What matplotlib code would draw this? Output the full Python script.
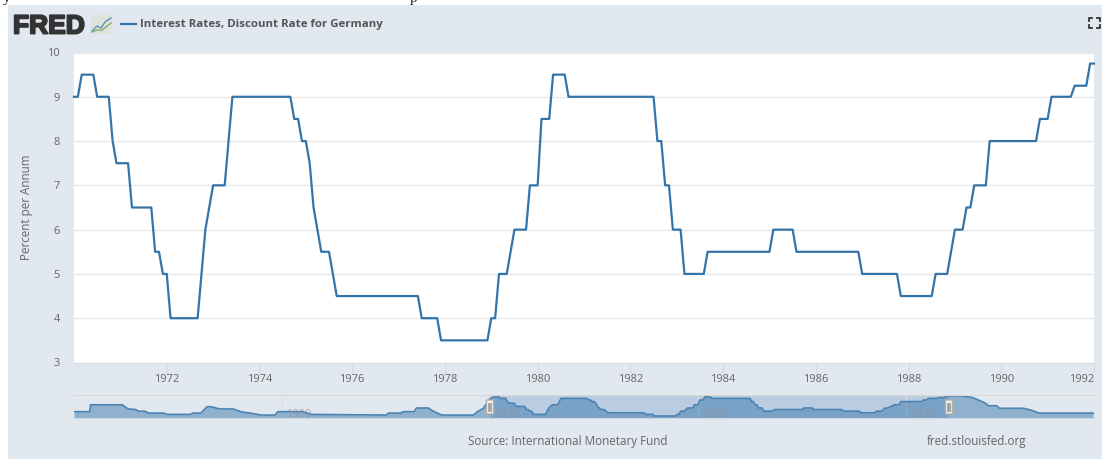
import numpy as np
import matplotlib
matplotlib.use('Agg')
import matplotlib.pyplot as plt
import matplotlib.patheffects as pe
from matplotlib.patches import Rectangle, FancyBboxPatch
from matplotlib.lines import Line2D

W, H = 1102, 459

rate_levels = [9, 9.5, 9, 8, 7.5, 6.5, 5.5, 5, 4, 5, 6, 6.5, 7, 8, 9, 8.5, 8, 7.5, 6.5, 6,
               5.5, 5, 4.5, 4, 3.5, 4, 5, 5.5, 6, 7, 8.5, 9.5, 9, 8, 7, 6, 5, 5.5, 6, 5.5,
               5, 4.5, 5, 5.5, 6, 6.5, 7, 8, 8.5, 9, 9.25, 9.75]
rate_months = [2, 4, 4, 1, 4, 6, 2, 2, 8, 1, 1, 1, 4, 1, 16, 2, 2, 1, 1, 1,
               3, 1, 22, 5, 13, 2, 3, 1, 4, 3, 3, 4, 23, 2, 2, 3, 6, 17, 6, 17,
               10, 9, 4, 1, 3, 2, 4, 13, 3, 6, 4, 2]

# Navigator series outside the selected range
nav_pre_years = [1950.0, 1950.75, 1950.8, 1952.32, 1952.6, 1952.97, 1953.1, 1953.4, 1953.6, 1954.3,
                 1954.5, 1955.6, 1955.7, 1956.1, 1956.4, 1956.6, 1957.0, 1957.66, 1958.06, 1958.46,
                 1959.0, 1959.66, 1959.8, 1961.0, 1961.4, 1965.03, 1965.1, 1965.7, 1965.83, 1966.35,
                 1966.47, 1967.03, 1967.27, 1967.67, 1969.2, 1969.4, 1969.68, 1969.85]
nav_pre_values = [4.85, 4.85, 7.0, 7.0, 5.7, 5.5, 5.0, 5.0, 4.4, 4.4,
                  4.0, 4.0, 4.4, 4.4, 6.4, 6.4, 5.7, 5.7, 4.75, 4.4,
                  3.8, 3.8, 4.85, 4.85, 4.0, 3.8, 4.4, 4.4, 4.85, 4.85,
                  6.0, 6.0, 5.0, 3.8, 3.8, 4.85, 5.9, 7.5]
nav_post_years = [1992.1, 1992.7, 1993.2, 1993.8, 1993.96, 1994.36, 1994.5, 1995.65, 1996.04, 1996.4, 1999.0]
nav_post_values = [9.75, 9.75, 9.25, 7.6, 6.7, 6.7, 5.9, 5.9, 5.3, 4.4, 4.4]

year_ticks = [1972, 1974, 1976, 1978, 1980, 1982, 1984, 1986, 1988, 1990, 1992]
rate_ticks = [3, 4, 5, 6, 7, 8, 9, 10]
nav_labels = [1960, 1970, 1980, 1990]

rate = np.repeat(rate_levels, rate_months)
years = 1970 + np.arange(len(rate)) / 12

BG = '#e1e8ef'
BLUE = '#3574a8'
GREY = '#666666'

plt.rcParams['font.family'] = ['Open Sans', 'DejaVu Sans']


def fx(x):
    return x / W


def fy(y):
    return 1 - y / H


def box(x0, y0, x1, y1):
    # axes rectangle given in pixels from the top left
    return [fx(x0), fy(y1), (x1 - x0) / W, (y1 - y0) / H]


fig = plt.figure(figsize=(W / 100, H / 100), dpi=100, facecolor='white')
fig.patches.append(Rectangle((fx(8), 0), 1 - fx(8), fy(5), transform=fig.transFigure,
                             facecolor=BG, edgecolor='none', zorder=-1))

# Main chart
ax = fig.add_axes(box(74, 52.5, 1094, 362.5), facecolor='white')
ax.plot(years, rate, color=BLUE, lw=1.6, solid_joinstyle='round', clip_on=False, zorder=3)
ax.set_xlim(1970, 1992)
ax.set_ylim(3, 10)
ax.set_xticks(year_ticks)
ax.set_yticks(rate_ticks)
ax.grid(axis='y', color='#e9e9e9', lw=1)
ax.set_axisbelow(True)
for s in ['top', 'left', 'right']:
    ax.spines[s].set_visible(False)
ax.spines['bottom'].set_color('#d3dce6')
ax.tick_params(axis='x', length=7, width=1, color='#d3dce6', labelcolor=GREY, labelsize=8, pad=1.5)
ax.tick_params(axis='y', length=0, labelcolor=GREY, labelsize=8, pad=10)
ax.get_xticklabels()[-1].set_horizontalalignment('right')
ax.set_ylabel('Percent per Annum', color=GREY, fontsize=8.4)
ax.yaxis.set_label_coords((33 - 74) / 1020, 0.5)

# Navigator
nav = fig.add_axes(box(74, 395, 1094, 418), facecolor='none')
nav_years = np.concatenate([nav_pre_years, years, nav_post_years])
nav_values = np.concatenate([nav_pre_values, rate, nav_post_values])
nav.axvspan(1970, 1992.06, color='#b9cce2', lw=0, zorder=0)
for yr in nav_labels:
    nav.axvline(yr, color='#d9dfe4', lw=0.7, zorder=0.5)
nav.fill_between(nav_years, nav_values, 2.875, color='#2f6fa5', alpha=0.45, lw=0, zorder=1)
nav.plot(nav_years, nav_values, color='#4a82b2', lw=1.2, zorder=2)
nav.set_xlim(1950, 1999.04)
nav.set_ylim(2.875, 10.06)
nav.set_xticks([])
nav.set_yticks([])
for s in ['left', 'right']:
    nav.spines[s].set_visible(False)
nav.spines['top'].set_color('#d9d9d2')
nav.spines['bottom'].set_color('#cfd8e0')
for yr in nav_labels:
    nav.text(yr + 0.2, 3.9, str(yr), color='#8a8f94', alpha=0.75, fontsize=8, va='center', zorder=3)

# Navigator handles
for x0 in [486.5, 945.5]:
    fig.patches.append(FancyBboxPatch((fx(x0), fy(414)), 7 / W, 14 / H, transform=fig.transFigure,
                                      boxstyle='round,pad=0', facecolor='#f4f4f2',
                                      edgecolor='#b5b0a5', lw=1, zorder=5))
    fig.patches.append(Rectangle((fx(x0 + 1.8), fy(411.5)), 3.6 / W, 9 / H, transform=fig.transFigure,
                                 facecolor='#a3a8ac', edgecolor='none', zorder=6))

# Header: logo, icon, legend, fullscreen
fig.text(fx(13), fy(33.5), 'FRED', family=['Liberation Sans'], fontweight='bold', fontsize=19,
         color='#333333', va='baseline',
         path_effects=[pe.withStroke(linewidth=1.4, foreground='#333333')])
fig.patches.append(Rectangle((fx(91), fy(34)), 21 / W, 19 / H, transform=fig.transFigure,
                             facecolor='#dfe3dc', edgecolor='none'))
fig.lines.append(Line2D([fx(v) for v in [92, 97, 101, 105, 111]], [fy(v) for v in [31, 26, 28, 22, 18]],
                        transform=fig.transFigure, color='#5f90b8', lw=1))
fig.lines.append(Line2D([fx(v) for v in [92, 97, 102, 106, 111]], [fy(v) for v in [32, 30, 30, 27, 23]],
                        transform=fig.transFigure, color='#84ad6c', lw=1))
fig.lines.append(Line2D([fx(121), fx(136)], [fy(24), fy(24)], transform=fig.transFigure, color=BLUE, lw=1.6))
fig.text(fx(140.5), fy(24.5), 'Interest Rates, Discount Rate for Germany', color='#555555',
         fontsize=8.25, fontweight='bold', va='center')

fs = [(1089, 18, 1, 1), (1100, 18, -1, 1), (1089, 28, 1, -1), (1100, 28, -1, -1)]
for x, y, dx, dy in fs:
    fig.lines.append(Line2D([fx(x + 3 * dx), fx(x), fx(x)], [fy(y), fy(y), fy(y + 3 * dy)],
                            transform=fig.transFigure, color='#333333', lw=1.3))

# Footer
fig.text(fx(468), fy(442), 'Source: International Monetary Fund', color=GREY, fontsize=8.4, va='center')
fig.text(fx(927), fy(442), 'fred.stlouisfed.org', color=GREY, fontsize=8.4, va='center')

# Cut off line of page text above the panel
fig.text(fx(3), fy(2), 'y', family=['Liberation Serif'], fontsize=11, color='#222222', va='baseline', zorder=-2)
fig.text(fx(410), fy(2), 'p', family=['Liberation Serif'], fontsize=11, color='#222222', va='baseline', zorder=-2)

fig.savefig('out.png', dpi=100)
